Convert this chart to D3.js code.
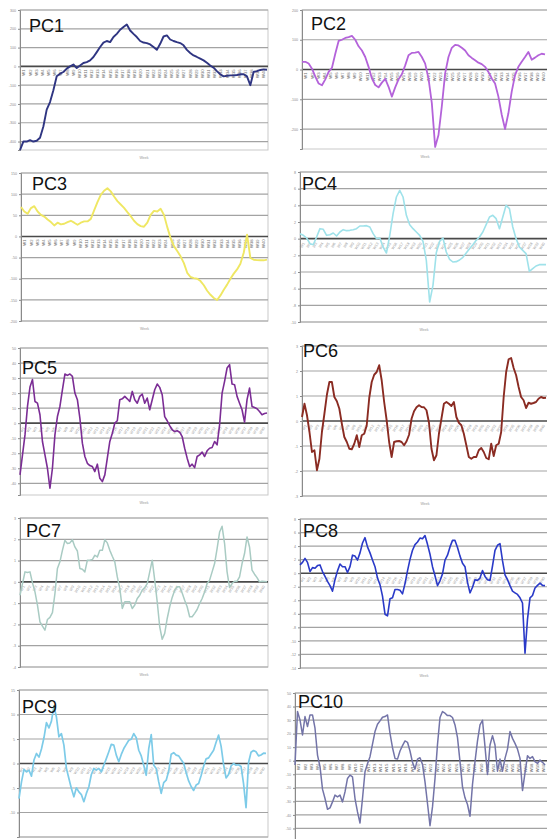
<!DOCTYPE html>
<html lang="en">
<head>
<meta charset="utf-8">
<title>PC1 - PC10 scores</title>
<script src="https://cdn.jsdelivr.net/npm/d3@7"></script>
<style>
  body { margin: 0; background: #fff; }
  svg { display: block; font-family: "Liberation Sans", Arial, sans-serif; }
</style>
</head>
<body>
<div id="chart"></div>
<script>
// component scores (units = one gridline step)
var pc1 = [-4.46,-4.0,-4.0,-3.93,-4.0,-3.96,-3.8,-3.2,-2.3,-1.9,-1.27,-0.53,-0.39,-0.3,-0.12,0,0.1,-0.09,0.05,0.18,0.23,0.32,0.5,0.76,1.03,1.26,1.35,1.29,1.56,1.73,1.95,2.09,2.23,1.91,1.73,1.56,1.35,1.27,1.24,1.17,1.03,0.88,1.2,1.59,1.65,1.43,1.35,1.29,1.24,1.12,0.88,0.71,0.58,0.5,0.41,0.32,0.19,0.05,-0.07,-0.25,-0.42,-0.53,-0.5,-0.48,-0.48,-0.46,-0.42,-0.42,-0.53,-1.0,-0.3,-0.25,-0.19,-0.16,-0.18];
var pc2 = [0.26,0.26,0.2,0.03,-0.24,-0.47,-0.53,-0.33,-0.08,0.06,0.53,0.96,1.0,1.06,1.09,1.13,1.0,0.78,0.64,0.42,0.09,-0.3,-0.52,-0.6,-0.44,-0.31,-0.58,-0.91,-0.6,-0.33,-0.16,0.14,0.48,0.56,0.57,0.59,0.42,0.2,-0.3,-1.13,-2.6,-2.2,-1.24,-0.13,0.42,0.73,0.83,0.81,0.73,0.64,0.48,0.39,0.31,0.23,0.18,0.09,-0.08,-0.3,-0.47,-0.91,-1.52,-2.0,-1.47,-0.74,-0.19,0.09,0.26,0.42,0.59,0.33,0.4,0.48,0.53,0.51];
var pc3 = [1.39,1.18,1.07,1.34,1.43,1.18,1.02,0.94,0.8,0.68,0.52,0.65,0.57,0.6,0.68,0.74,0.65,0.55,0.65,0.71,0.71,0.83,1.23,1.62,1.97,2.16,2.28,2.13,1.89,1.67,1.51,1.35,1.15,0.96,0.74,0.58,0.49,0.46,0.65,1.02,1.21,1.18,1.31,1.02,0.44,-0.08,-0.46,-0.69,-0.94,-1.26,-1.72,-1.92,-1.97,-2.0,-2.11,-2.31,-2.57,-2.76,-2.91,-3.01,-2.79,-2.52,-2.28,-2.0,-1.76,-1.56,-1.29,-0.77,0.08,-1.02,-1.1,-1.12,-1.13,-1.13,-1.1];
var pc4 = [0.3,0.2,0.04,-0.3,-0.36,0.1,0.6,0.56,0.2,0.24,0.34,0.16,0.4,0.54,0.48,0.5,0.54,0.6,0.76,0.76,0.78,0.7,0.3,0,0.04,-0.5,-0.86,0.2,1.5,2.5,2.9,2.5,1.4,0.84,0.6,0.4,0.2,-0.16,-1.3,-3.8,-2.8,-0.84,-0.16,0.04,-0.8,-1.24,-1.4,-1.38,-1.28,-1.12,-0.86,-0.6,-0.36,-0.1,0.1,0.4,0.84,1.3,1.4,1.2,0.6,1.3,2.0,1.8,0.7,0,-0.5,-0.7,-0.9,-1.96,-1.8,-1.64,-1.56,-1.56,-1.56];
var pc5 = [-3.44,-2.11,-0.78,1.11,2.4,2.9,1.44,1.33,0.56,-1.22,-2.11,-3.0,-4.33,-3.0,-0.78,0.44,1.11,2.22,3.27,3.18,3.27,3.11,2.0,1.56,0.33,-1.33,-2.22,-2.67,-2.82,-2.89,-3.22,-2.73,-3.67,-3.89,-3.44,-2.33,-1.22,-0.67,0,0.16,1.56,1.62,1.78,1.62,1.44,2.11,1.56,1.33,1.78,1.93,1.33,1.67,0.89,1.56,2.22,2.6,2.38,1.89,0.44,0.16,-0.16,-0.44,-0.56,-0.51,-0.6,-0.89,-1.67,-2.33,-2.89,-2.73,-2.96,-2.22,-2.11,-1.93,-2.22,-1.84,-1.67,-1.62,-1.22,-1.44,-0.11,2.0,2.78,3.67,3.89,2.6,2.56,1.78,1.33,0.89,0.07,1.56,2.33,1.11,1.04,0.96,0.78,0.56,0.64,0.67];
var pc6 = [0.16,0.69,0.23,-0.44,-1.24,-1.17,-1.97,-1.51,-0.44,0.29,1.05,1.56,1.56,0.96,0.79,0.49,-0.11,-0.64,-0.84,-1.11,-1.13,-0.91,-0.57,-1.04,-0.57,-0.51,-0.17,0.92,1.56,1.85,1.96,2.23,1.63,0.76,0.03,-0.84,-1.44,-0.84,-0.81,-0.8,-0.84,-0.97,-0.81,-0.55,0.09,0.39,0.55,0.63,0.56,0.55,0.43,-0.07,-1.11,-1.57,-1.37,-0.51,0.09,0.69,0.76,0.69,0.6,0.76,0.16,-0.07,-0.17,-0.51,-0.97,-1.44,-1.51,-1.44,-1.44,-1.17,-1.08,-1.24,-1.48,-1.53,-0.91,-1.4,-0.97,-0.91,-0.44,0.96,1.96,2.47,2.52,2.12,1.83,1.36,0.96,0.83,0.52,0.73,0.69,0.72,0.76,0.89,0.96,0.92,0.93];
var pc7 = [-0.63,-0.08,0.47,0.44,0.47,-0.05,-0.47,-1.09,-1.88,-2.08,-2.27,-1.77,-1.67,-1.45,-0.55,0.63,0.94,1.48,1.95,1.8,1.83,1.98,1.64,1.45,0.63,0.59,0.47,1.02,1.02,1.05,1.25,1.17,1.48,1.48,1.98,1.83,1.48,1.2,0.94,0.23,-0.31,-1.25,-0.94,-0.94,-0.94,-1.25,-1.09,-0.78,-0.63,-0.38,-0.27,-0.08,0.47,1.02,0.08,-0.94,-2.11,-2.7,-2.42,-1.72,-1.17,-0.73,-0.39,-0.23,-0.23,-0.52,-0.86,-1.17,-1.64,-1.64,-1.48,-1.3,-1.02,-0.78,-0.47,-0.08,0.08,0.47,0.86,1.56,2.34,2.61,1.8,0.47,-0.27,-0.08,0.03,0.03,0.23,0.86,1.33,2.11,1.64,0.55,0.36,0.2,0,0.03,0.02,0];
var pc8 = [0.61,0.8,1.09,0.8,0.12,0.41,0.36,0.56,0.61,0.12,-0.24,-0.61,-0.92,-1.33,-0.48,0.17,0.68,0.48,0.48,0.05,0.48,1.33,1.26,0.97,1.5,2.23,2.62,1.94,1.5,0.97,0.48,-0.36,-0.85,-1.69,-3.03,-3.15,-1.89,-1.82,-1.21,-1.21,-1.26,-1.53,-0.77,0.17,1.02,1.69,2.11,2.3,2.59,2.54,2.78,2.13,1.4,0.48,-0.19,-0.92,-0.56,-0.05,0.97,1.33,1.94,2.42,2.42,1.89,1.26,0.73,0.48,-0.68,-1.45,-1.04,-0.48,-0.53,-0.36,0.19,-0.24,-0.48,-0.53,0.53,1.69,2.06,2.18,0.92,-0.12,-0.48,-0.92,-1.33,-1.45,-1.57,-1.82,-2.2,-5.9,-3.39,-1.82,-1.65,-1.09,-0.9,-0.73,-0.9,-0.92];
var pc9 = [-1.43,-0.75,-0.24,-0.34,-0.27,-0.52,0.14,0.41,0.26,0.59,1.05,1.67,1.45,1.73,2.35,1.9,1.09,1.22,0.75,-0.2,-0.61,-1.02,-1.36,-0.99,-1.16,-1.27,-1.56,-1.22,-0.95,-0.45,-0.2,-0.27,-0.2,-0.34,-0.07,0.2,0.48,0.78,0.75,0.34,0.07,0.37,0.61,0.78,0.95,0.99,1.22,1.05,0.54,0.31,-0.07,-0.48,0.61,1.18,-0.07,-0.2,-0.75,-1.22,-0.78,-0.68,-0.31,0.38,0.44,0.34,0.31,0.15,0.01,-0.38,-0.71,-0.94,-1.1,-0.88,-0.82,-0.49,-0.11,0.19,0.23,0.39,0.54,0.87,1.16,0.71,-0.04,-0.59,-0.45,-0.1,0,-0.07,-0.05,-0.12,-0.82,-1.8,0.04,0.46,0.53,0.48,0.31,0.35,0.42,0.41];
var pc10 = [-0.32,3.63,3.01,1.9,3.26,2.52,3.38,3.38,2.4,0.42,-0.44,-2.1,-2.79,-3.58,-3.48,-3.04,-2.54,-2.67,-2.54,-3.04,-2.3,-1.31,-1.06,-1.19,-2.79,-3.78,-4.6,-2.79,-0.81,-0.22,0.3,1.23,2.15,2.69,2.94,3.21,3.26,3.38,2.02,0.96,0.17,0.12,0.72,1.11,1.46,1.36,0.72,-0.12,-0.62,0.12,0.22,-0.27,-1.56,-3.16,-4.8,-3.41,-1.31,1.21,3.19,3.63,3.51,3.33,3.33,3.19,2.64,1.7,-0.07,-1.93,-2.74,-3.23,-4.1,-1.75,-0.07,1.46,2.64,2.99,1.04,-1.01,1.16,1.85,1.16,-0.77,0.12,-0.77,0.17,0.86,2.15,1.65,1.28,0.86,0.17,-2.2,-0.9,0.37,0.17,0.3,-0.07,-0.2,0.05,-0.12,-0.32];

// y ticks for each panel
var pc1Ticks = [3,2,1,0,-1,-2,-3,-4];
var pc2Ticks = [2,1,0,-1,-2];
var pc3Ticks = [3,2,1,0,-1,-2,-3,-4];
var pc4Ticks = [4,3,2,1,0,-1,-2,-3,-4,-5];
var pc5Ticks = [5,4,3,2,1,0,-1,-2,-3,-4];
var pc6Ticks = [3,2,1,0,-1,-2,-3];
var pc7Ticks = [3,2,1,0,-1,-2,-3,-4];
var pc8Ticks = [4,3,2,1,0,-1,-2,-3,-4,-5,-6,-7];
var pc9Ticks = [3,2,1,0,-1,-2,-3];
var pc10Ticks = [5,4,3,2,1,0,-1,-2,-3,-4,-5,-6];

// category labels that sit under the zero line (tiny, illegible in the scan)
var weekLabels = ["W1","W2","W3","W4","W5","W6","W7","W8","W9","W10",
                  "W11","W12","W13","W14","W15","W16","W17","W18","W19","W20",
                  "W21","W22","W23","W24","W25","W26","W27","W28","W29","W30",
                  "W31","W32","W33","W34","W35","W36","W37","W38","W39","W40"];

var names = ["PC1","PC2","PC3","PC4","PC5","PC6","PC7","PC8","PC9","PC10"];
var series = [pc1, pc2, pc3, pc4, pc5, pc6, pc7, pc8, pc9, pc10];
var tickSets = [pc1Ticks, pc2Ticks, pc3Ticks, pc4Ticks, pc5Ticks, pc6Ticks, pc7Ticks, pc8Ticks, pc9Ticks, pc10Ticks];
var tickMult = [100, 100, 50, 2, 10, 1, 1, 2, 5, 10];

var H = 839;

// panel layout: plot box, data end, domain, hatch style, label spot
var panels = [
  {x0:20,  x1:268, xe:267, y0:10,  y1:150, lo:-4.45, hi:3, hatch:"v", tx:29,  ty:32,  color:"#2f3582", w:1.9},
  {x0:302, x1:548, xe:545, y0:10,  y1:149, lo:-2.67, hi:2, hatch:"v", tx:311, ty:30,  color:"#b463da", w:1.8},
  {x0:21,  x1:268, xe:267, y0:173, y1:321, lo:-4,    hi:3, hatch:"v", tx:32,  ty:190, color:"#efe763", w:1.9},
  {x0:300, x1:548, xe:546, y0:172, y1:322, lo:-5,    hi:4, hatch:"s", tx:302, ty:190, color:"#9fe2ea", w:1.6},
  {x0:20,  x1:268, xe:267, y0:348, y1:495, lo:-4.78, hi:5, hatch:"s", tx:22,  ty:374, color:"#7b2d95", w:1.6},
  {x0:302, x1:548, xe:546, y0:346, y1:496, lo:-3,    hi:3, hatch:"s", tx:303, ty:357, color:"#8a2b22", w:1.9},
  {x0:20,  x1:268, xe:267, y0:518, y1:667, lo:-4,    hi:3, hatch:"s", tx:26,  ty:537, color:"#a9cbc3", w:1.5},
  {x0:300, x1:548, xe:545, y0:519, y1:668, lo:-7,    hi:4, hatch:"s", tx:303, ty:537, color:"#2a3ac8", w:1.6},
  {x0:19,  x1:268, xe:266, y0:690, y1:837, lo:-3,    hi:3, hatch:"s", tx:22,  ty:713, color:"#7dcbe8", w:1.7},
  {x0:295, x1:548, xe:545, y0:693, y1:842, lo:-6,    hi:5, hatch:"v", tx:298, ty:708, color:"#7374a8", w:1.5}
];

var svg = d3.select("#chart").append("svg")
            .attr("width", 547)
            .attr("height", H);

panels.forEach(function(p, i) {
    var data = series[i];

    var x = d3.scaleLinear()
              .domain([0, data.length - 1])
              .range([p.x0, p.xe]);

    var y = d3.scaleLinear()
              .domain([p.lo, p.hi])
              .range([p.y1, p.y0]);

    var g = svg.append("g").attr("class", "panel");

    // plot box
    g.append("rect")
        .attr("x", p.x0)
        .attr("y", y(p.hi))
        .attr("width", p.x1 - p.x0)
        .attr("height", y(p.lo) - y(p.hi))
        .attr("fill", "#fff")
        .attr("stroke", "#c9c9c9")
        .attr("stroke-width", 1);

    // horizontal gridlines
    g.selectAll("line.grid")
        .data(tickSets[i].filter(function(t) { return t !== 0; }))
        .enter()
        .append("line")
        .attr("class", "grid")
        .attr("x1", p.x0)
        .attr("x2", p.x1)
        .attr("y1", function(d) { return y(d); })
        .attr("y2", function(d) { return y(d); })
        .attr("stroke", "#a3a3a3")
        .attr("stroke-width", 1.2);

    // category labels just under the zero line
    var xc = d3.scalePoint()
               .domain(weekLabels)
               .range([p.x0 + 4, p.x1 - 4]);
    var y0 = y(0);
    var vert = p.hatch === "v";

    g.selectAll("text.cat")
        .data(weekLabels)
        .enter()
        .append("text")
        .attr("class", "cat")
        .attr("transform", function(d) {
            return "translate(" + xc(d) + "," + (y0 + (vert ? 3 : 4)) + ") rotate(" + (vert ? -90 : -58) + ")";
        })
        .attr("text-anchor", "end")
        .attr("dy", "0.35em")
        .attr("font-size", vert ? 4.2 : 3.8)
        .attr("fill", vert ? "#6e6e6e" : "#9a9a9a")
        .text(function(d) { return d; });

    // zero line
    g.append("line")
        .attr("x1", p.x0)
        .attr("x2", p.x1)
        .attr("y1", y0)
        .attr("y2", y0)
        .attr("stroke", "#4a4a4a")
        .attr("stroke-width", 1.6);

    // left axis, tiny labels (only those that land inside the page)
    var yAxis = d3.axisLeft(y)
                  .tickValues(tickSets[i].filter(function(t) { return y(t) < H - 3; }))
                  .tickSize(2)
                  .tickFormat(function(d) { return d * tickMult[i]; });

    g.append("g")
        .attr("transform", "translate(" + p.x0 + ",0)")
        .call(yAxis)
        .call(function(a) {
            a.select(".domain").attr("stroke", "#8a8a8a");
            a.selectAll(".tick line").attr("stroke", "#8a8a8a");
            a.selectAll(".tick text")
                .attr("font-size", 3.6)
                .attr("fill", "#8a8a8a")
                .attr("x", -4);
        });

    // the series
    var line = d3.line()
                 .x(function(d, k) { return x(k); })
                 .y(function(d) { return y(d); });

    g.append("path")
        .datum(data)
        .attr("d", line)
        .attr("fill", "none")
        .attr("stroke", p.color)
        .attr("stroke-width", p.w)
        .attr("stroke-linejoin", "round");

    // panel name
    g.append("text")
        .attr("x", p.tx)
        .attr("y", p.ty)
        .attr("font-size", 18)
        .attr("fill", "#111")
        .text(names[i]);

    // tiny axis title under the box - the bottom row's falls off the page
    if (p.y1 + 9 < H - 3) {
        g.append("text")
            .attr("x", (p.x0 + p.x1) / 2)
            .attr("y", p.y1 + 9)
            .attr("text-anchor", "middle")
            .attr("font-size", 3.6)
            .attr("fill", "#999")
            .text("Week");
    }
});
</script>
</body>
</html>
